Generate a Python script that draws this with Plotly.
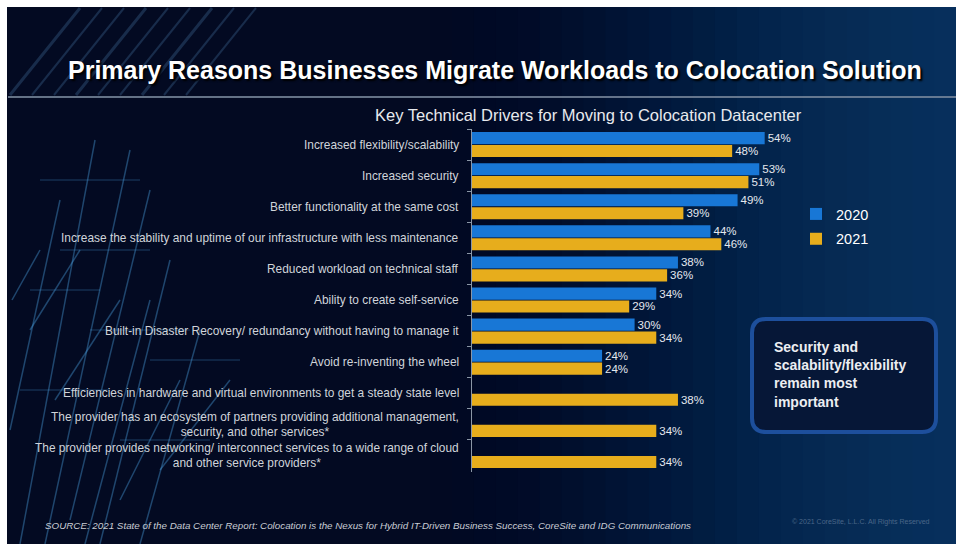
import plotly.graph_objects as go

W, H = 956, 544

categories = [
    "Increased flexibility/scalability",
    "Increased security",
    "Better functionality at the same cost",
    "Increase the stability and uptime of our infrastructure with less maintenance",
    "Reduced workload on technical staff",
    "Ability to create self-service",
    "Built-in Disaster Recovery/ redundancy without having to manage it",
    "Avoid re-inventing the wheel",
    "Efficiencies in hardware and virtual environments to get a steady state level",
    "The provider has an ecosystem of partners providing additional management,<br>security, and other services*",
    "The provider provides networking/ interconnect services to a wide range of cloud<br>and other service providers*",
]
values_2020 = [54, 53, 49, 44, 38, 34, 30, 24, None, None, None]
values_2021 = [48, 51, 39, 46, 36, 29, 34, 24, 38, 34, 34]
series_names = ["2020", "2021"]

title_text = "Primary Reasons Businesses Migrate Workloads to Colocation Solution"
subtitle_text = "Key Technical Drivers for Moving to Colocation Datacenter"
callout_text = "Security and<br>scalability/flexibility<br>remain most<br>important"
source_text = ("SOURCE: 2021 State of the Data Center Report: Colocation is the Nexus for Hybrid "
               "IT-Driven Business Success, CoreSite and IDG Communications")
copyright_text = "© 2021 CoreSite, L.L.C. All Rights Reserved"

BLUE = "#1877d6"
GOLD = "#e7ad1c"
FONT = "Liberation Sans, Arial, sans-serif"


def px(x):
    return x / W


def py(y):
    return 1 - y / H


fig = go.Figure()
fig.add_trace(go.Bar(
    name=series_names[0], y=categories, x=values_2020, orientation="h",
    legendgroup="a",
    marker=dict(color=BLUE, line=dict(width=0)),
    text=[f"{v}%" if v is not None else "" for v in values_2020],
    textposition="outside", textfont=dict(color="#e4e8ee", size=11.5, family=FONT),
    cliponaxis=False, hoverinfo="skip",
))
fig.add_trace(go.Bar(
    name=series_names[1], y=categories, x=values_2021, orientation="h",
    legendgroup="b",
    marker=dict(color=GOLD, line=dict(width=0)),
    text=[f"{v}%" for v in values_2021],
    textposition="outside", textfont=dict(color="#e4e8ee", size=11.5, family=FONT),
    cliponaxis=False, hoverinfo="skip",
))

shapes = []
# white frame edges + dark background
shapes.append(dict(type="rect", xref="paper", yref="paper", x0=0, x1=1, y0=0, y1=1,
                   fillcolor="white", line=dict(width=0), layer="below"))
shapes.append(dict(type="rect", xref="paper", yref="paper", x0=px(7), x1=1, y0=0, y1=py(7),
                   fillcolor="#030a22", line=dict(width=0), layer="below"))
# right-side bluish gradient made of strips
n = 24
for i in range(n):
    x0 = 430 + i * (526 / n)
    op = 0.035 * (i + 1) / n * 6
    shapes.append(dict(type="rect", xref="paper", yref="paper", x0=px(x0), x1=1,
                       y0=0, y1=py(7), fillcolor="#0c3462", opacity=min(op, 0.22),
                       line=dict(width=0), layer="below"))
# top-left streaks
for k in range(9):
    xs = 10 + k * 22
    shapes.append(dict(type="line", xref="paper", yref="paper",
                       x0=px(xs), y0=py(95), x1=px(xs + 70), y1=py(8),
                       line=dict(color="#4a7aaa", width=2 if k % 3 else 3),
                       opacity=0.3, layer="below"))
# left circuit lines
circuit = [
    (20, 544, 95, 140), (45, 544, 130, 150), (70, 520, 150, 190), (10, 430, 60, 200),
    (100, 544, 170, 260), (140, 544, 200, 330), (30, 330, 80, 250), (55, 400, 120, 300),
    (160, 470, 230, 380), (12, 300, 40, 250), (85, 544, 150, 300), (120, 500, 180, 380),
]
for (xa, ya, xb, yb) in circuit:
    shapes.append(dict(type="line", xref="paper", yref="paper",
                       x0=px(xa), y0=py(ya), x1=px(xb), y1=py(yb),
                       line=dict(color="#4aa0e0", width=1.5), opacity=0.4, layer="below"))
horiz = [(60, 250, 150), (90, 330, 190), (20, 390, 110), (120, 440, 210), (40, 180, 140),
         (30, 290, 100), (150, 360, 240)]
for (xa, yy, xb) in horiz:
    shapes.append(dict(type="line", xref="paper", yref="paper",
                       x0=px(xa), y0=py(yy), x1=px(xb), y1=py(yy),
                       line=dict(color="#4aa0e0", width=1), opacity=0.35, layer="below"))
# title rule
shapes.append(dict(type="line", xref="paper", yref="paper", x0=px(8), x1=1,
                   y0=py(97), y1=py(97), line=dict(color="#7d8ca0", width=2),
                   opacity=0.8, layer="below"))
# callout box (rounded)
bx0, bx1, by0, by1, r = 752, 936, 319, 432, 14
path = (f"M {bx0 + r},{by0} L {bx1 - r},{by0} Q {bx1},{by0} {bx1},{by0 + r} "
        f"L {bx1},{by1 - r} Q {bx1},{by1} {bx1 - r},{by1} L {bx0 + r},{by1} "
        f"Q {bx0},{by1} {bx0},{by1 - r} L {bx0},{by0 + r} Q {bx0},{by0} {bx0 + r},{by0} Z")


def conv(p):
    out = []
    for tok in p.split(" "):
        if "," in tok:
            a, b = tok.split(",")
            out.append(f"{px(float(a)):.5f},{py(float(b)):.5f}")
        else:
            out.append(tok)
    return " ".join(out)


shapes.append(dict(type="path", xref="paper", yref="paper", path=conv(path),
                   fillcolor="#061737", line=dict(color="#1d4f9c", width=4), layer="below"))

annotations = []
annotations.append(dict(text=f"<b>{title_text}</b>", xref="paper", yref="paper",
                        x=px(495), y=py(70), xanchor="center", yanchor="middle",
                        showarrow=False,
                        font=dict(size=25, color="white", family=FONT,
                                  shadow="2px 2px 2px #000")))
annotations.append(dict(text=subtitle_text, xref="paper", yref="paper",
                        x=px(588), y=py(115), xanchor="center", yanchor="middle",
                        showarrow=False, font=dict(size=16.5, color="#e8eaee", family=FONT)))
for c in categories:
    annotations.append(dict(text=c, xref="paper", yref="y", x=px(461), y=c,
                            xanchor="right", yanchor="middle", align="center",
                            showarrow=False,
                            font=dict(size=11.9, color="#d0d4da", family=FONT)))
annotations.append(dict(text=f"<b>{callout_text}</b>", xref="paper", yref="paper",
                        x=px(772), y=py(337), xanchor="left", yanchor="top", align="left",
                        showarrow=False,
                        font=dict(size=14, color="#eceef2", family=FONT)))
annotations.append(dict(text=f"<i>{source_text}</i>", xref="paper", yref="paper",
                        x=px(43), y=py(525), xanchor="left", yanchor="middle",
                        showarrow=False, font=dict(size=9.8, color="#c8ccd4", family=FONT)))
annotations.append(dict(text=copyright_text, xref="paper", yref="paper",
                        x=px(790), y=py(522), xanchor="left", yanchor="middle",
                        showarrow=False, font=dict(size=7, color="#4a6688", family=FONT)))

fig.update_layout(
    width=W, height=H,
    margin=dict(l=0, r=0, t=0, b=0),
    paper_bgcolor="white",
    plot_bgcolor="rgba(0,0,0,0)",
    barmode="group", bargap=0.17, bargroupgap=0.06,
    showlegend=True,
    legend=dict(x=px(796), y=py(198), xanchor="left", yanchor="top",
                bgcolor="rgba(0,0,0,0)", font=dict(size=14.5, color="white", family=FONT),
                itemwidth=30, tracegroupgap=3),
    xaxis=dict(domain=[px(472), px(472 + 60 * 5.42)], range=[0, 60], visible=False,
               fixedrange=True),
    yaxis=dict(domain=[py(472), py(129)], autorange="reversed", type="category",
               showticklabels=False, ticks="outside", ticklen=4, tickcolor="#8a96a6",
               tickson="boundaries", showline=True, linecolor="#8a96a6", linewidth=1,
               showgrid=False, zeroline=False, fixedrange=True),
    shapes=shapes,
    annotations=annotations,
)

fig.write_html("out.html")
